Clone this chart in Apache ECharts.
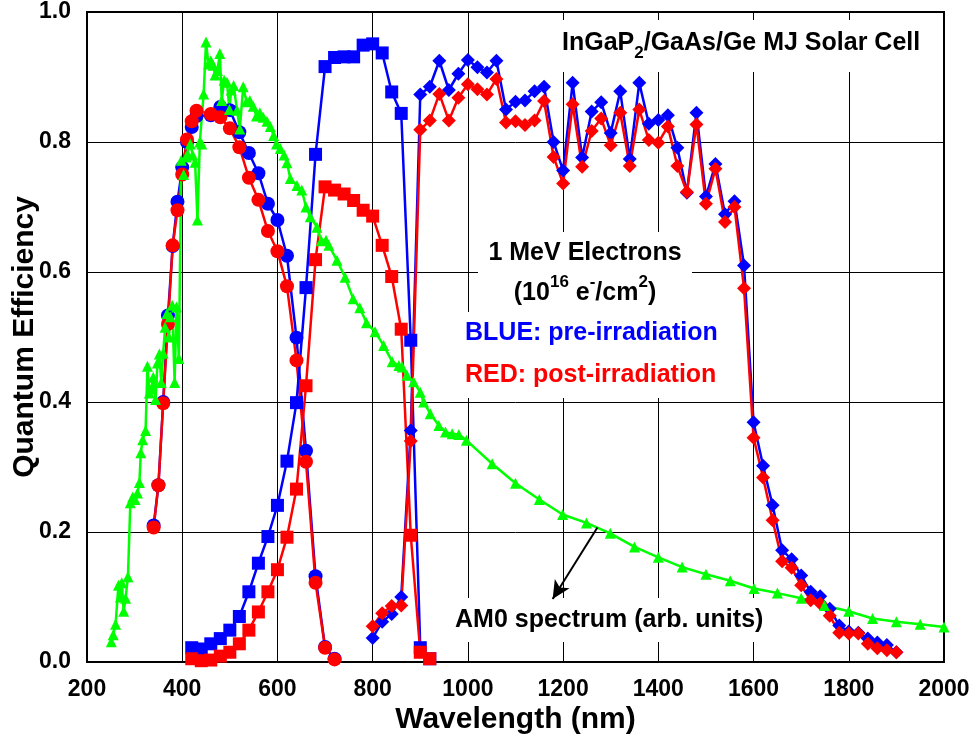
<!DOCTYPE html>
<html>
<head>
<meta charset="utf-8">
<script src="https://cdn.jsdelivr.net/npm/echarts@6/dist/echarts.min.js"></script>
<style>
  html, body { margin: 0; padding: 0; background: #fff; }
  #qe { width: 973px; height: 742px; }
</style>
</head>
<body>
<div id="qe"></div>
<script>
// InGaP top cell (circles)
var topPre = [[340,0.21],[350,0.272],[360,0.40],[370,0.533],[380,0.64],[390,0.708],[400,0.761],[410,0.80],[420,0.823],[430,0.84],[460,0.841],[480,0.854],[500,0.849],[520,0.815],[540,0.783],[560,0.752],[580,0.705],[600,0.680],[620,0.625],[640,0.499],[660,0.325],[680,0.132],[700,0.023],[720,0.005]];
var topPost = [[340,0.207],[350,0.272],[360,0.398],[370,0.52],[380,0.641],[390,0.695],[400,0.75],[410,0.804],[420,0.832],[430,0.848],[460,0.843],[480,0.838],[500,0.821],[520,0.792],[540,0.745],[560,0.711],[580,0.663],[600,0.632],[620,0.578],[640,0.464],[660,0.308],[680,0.122],[700,0.022],[720,0.004]];
// GaAs middle cell (squares)
var midPre = [[420,0.022],[440,0.02],[460,0.028],[480,0.036],[500,0.049],[520,0.07],[540,0.108],[560,0.152],[580,0.193],[600,0.241],[620,0.309],[640,0.399],[660,0.576],[680,0.781],[700,0.916],[720,0.930],[740,0.931],[760,0.931],[780,0.949],[800,0.951],[820,0.937],[840,0.877],[860,0.844],[880,0.495],[900,0.022],[920,0.005]];
var midPost = [[420,0.005],[440,0.002],[460,0.003],[480,0.009],[500,0.015],[520,0.028],[540,0.049],[560,0.077],[580,0.108],[600,0.142],[620,0.192],[640,0.266],[660,0.425],[680,0.619],[700,0.731],[720,0.726],[740,0.72],[760,0.71],[780,0.695],[800,0.686],[820,0.641],[840,0.593],[860,0.512],[880,0.195],[900,0.015],[920,0.005]];
// Ge bottom cell (diamonds)
var botPre = [[800,0.037],[820,0.062],[840,0.074],[860,0.10],[880,0.356],[900,0.873],[920,0.885],[940,0.925],[960,0.88],[980,0.905],[1000,0.926],[1020,0.915],[1040,0.907],[1060,0.925],[1080,0.85],[1100,0.862],[1120,0.864],[1140,0.878],[1160,0.885],[1180,0.80],[1200,0.756],[1220,0.891],[1240,0.776],[1260,0.847],[1280,0.861],[1300,0.814],[1320,0.878],[1340,0.774],[1360,0.891],[1380,0.828],[1400,0.834],[1420,0.841],[1440,0.791],[1460,0.722],[1480,0.845],[1500,0.716],[1520,0.766],[1540,0.689],[1560,0.709],[1580,0.61],[1600,0.369],[1620,0.302],[1640,0.241],[1660,0.172],[1680,0.158],[1700,0.133],[1720,0.108],[1740,0.101],[1760,0.082],[1780,0.056],[1800,0.047],[1820,0.045],[1840,0.036],[1860,0.03],[1880,0.026],[1900,0.015]];
var botPost = [[800,0.055],[820,0.075],[840,0.086],[860,0.087],[880,0.34],[900,0.819],[920,0.833],[940,0.874],[960,0.833],[980,0.868],[1000,0.889],[1020,0.881],[1040,0.873],[1060,0.897],[1080,0.830],[1100,0.832],[1120,0.826],[1140,0.833],[1160,0.863],[1180,0.777],[1200,0.736],[1220,0.858],[1240,0.762],[1260,0.817],[1280,0.836],[1300,0.795],[1320,0.845],[1340,0.763],[1360,0.850],[1380,0.803],[1400,0.799],[1420,0.824],[1440,0.763],[1460,0.723],[1480,0.827],[1500,0.705],[1520,0.759],[1540,0.677],[1560,0.700],[1580,0.575],[1600,0.345],[1620,0.284],[1640,0.218],[1660,0.155],[1680,0.145],[1700,0.118],[1720,0.095],[1740,0.09],[1760,0.071],[1780,0.045],[1800,0.044],[1820,0.044],[1840,0.028],[1860,0.021],[1880,0.018],[1900,0.015]];
// AM0 spectrum, arb. units
var am0 = [[251,0.031],[255,0.042],[260,0.058],[266,0.118],[270,0.10],[273,0.122],[277,0.078],[281,0.098],[286,0.131],[291,0.245],[296,0.254],[301,0.25],[306,0.26],[310,0.276],[313,0.322],[317,0.342],[323,0.356],[327,0.455],[331,0.414],[335,0.42],[339,0.438],[344,0.404],[348,0.46],[352,0.474],[356,0.43],[360,0.475],[364,0.515],[368,0.536],[372,0.5],[375,0.531],[379,0.549],[384,0.43],[388,0.546],[393,0.467],[398,0.772],[403,0.75],[408,0.777],[412,0.78],[417,0.797],[422,0.78],[427,0.769],[432,0.68],[437,0.8],[441,0.797],[445,0.874],[450,0.954],[455,0.92],[460,0.925],[465,0.918],[469,0.903],[474,0.91],[479,0.936],[483,0.864],[488,0.895],[494,0.892],[499,0.85],[503,0.88],[508,0.887],[515,0.849],[521,0.82],[528,0.885],[535,0.862],[542,0.864],[549,0.855],[556,0.84],[563,0.845],[570,0.838],[578,0.832],[585,0.824],[592,0.81],[598,0.797],[606,0.79],[614,0.78],[620,0.768],[627,0.744],[641,0.733],[651,0.726],[660,0.70],[669,0.685],[683,0.669],[692,0.648],[702,0.649],[708,0.641],[725,0.618],[742,0.592],[759,0.559],[773,0.545],[787,0.522],[805,0.508],[823,0.487],[841,0.462],[855,0.456],[862,0.454],[872,0.441],[886,0.431],[900,0.415],[907,0.40],[921,0.382],[939,0.364],[953,0.354],[967,0.351],[981,0.35],[997,0.341],[1051,0.305],[1100,0.275],[1150,0.25],[1199,0.227],[1249,0.214],[1299,0.198],[1350,0.177],[1400,0.161],[1450,0.146],[1500,0.135],[1551,0.125],[1601,0.113],[1650,0.106],[1700,0.098],[1749,0.087],[1800,0.078],[1850,0.067],[1900,0.062],[1950,0.058],[2000,0.054]];
// arrow from the AM0 curve to its label
var arrowFrom = [1272, 0.207];
var arrowTo = [1178, 0.097];

var FONT = "'Liberation Sans', Arial, sans-serif";
var BLUE = "#0000ff", RED = "#ff0000", GREEN = "#00ff00";

function line(name, data, color, symbol, size) {
  return {
    name: name,
    type: "line",
    data: data,
    symbol: symbol,
    symbolSize: size,
    showAllSymbol: true,
    animation: false,
    lineStyle: { color: color, width: 2.5 },
    itemStyle: { color: color }
  };
}

var chart = echarts.init(document.getElementById("qe"));
var series = [
  line("InGaP pre", topPre, BLUE, "circle", 14),
  line("InGaP post", topPost, RED, "circle", 14),
  line("GaAs pre", midPre, BLUE, "rect", 13),
  line("GaAs post", midPost, RED, "rect", 13),
  line("Ge pre", botPre, BLUE, "diamond", 14),
  line("Ge post", botPost, RED, "diamond", 14),
  line("AM0", am0, GREEN, "triangle", 11)
];
series[6].markLine = {
  silent: true,
  animation: false,
  symbol: ["none", "arrow"],
  symbolSize: [13, 18],
  label: { show: false },
  lineStyle: { color: "#000", width: 2, type: "solid" },
  data: [[{ coord: arrowFrom }, { coord: arrowTo }]]
};

chart.setOption({
  animation: false,
  grid: {
    left: 87, right: 29, top: 12, bottom: 80,
    outerBoundsMode: "none",
    containLabel: false,
    show: true, borderColor: "#000", borderWidth: 2
  },
  xAxis: {
    type: "value",
    min: 200, max: 2000, interval: 200,
    name: "Wavelength (nm)",
    nameLocation: "middle",
    nameGap: 43,
    nameMoveOverlap: false,
    nameTextStyle: { fontFamily: FONT, fontWeight: "bold", fontSize: 30, color: "#000" },
    axisLine: { show: true, lineStyle: { color: "#000", width: 2 } },
    axisTick: { show: false },
    axisLabel: {
      fontFamily: FONT, fontWeight: "bold", fontSize: 23, color: "#000", margin: 16,
      formatter: function (v) { return String(v); }
    },
    splitLine: { show: true, lineStyle: { color: "#000", width: 1 } }
  },
  yAxis: {
    type: "value",
    min: 0, max: 1, interval: 0.2,
    name: "Quantum Efficiency",
    nameLocation: "middle",
    nameGap: 47,
    nameMoveOverlap: false,
    nameTextStyle: { fontFamily: FONT, fontWeight: "bold", fontSize: 30, color: "#000" },
    axisLine: { show: true, lineStyle: { color: "#000", width: 2 } },
    axisTick: { show: false },
    axisLabel: {
      fontFamily: FONT, fontWeight: "bold", fontSize: 23, color: "#000", margin: 16,
      formatter: function (v) { return v.toFixed(1); }
    },
    splitLine: { show: true, lineStyle: { color: "#000", width: 1 } }
  },
  graphic: [
    { type: "rect", z: 1, shape: { x: 555, y: 20, width: 375, height: 52 }, style: { fill: "#fff" } },
    { type: "rect", z: 1, shape: { x: 478, y: 232, width: 214, height: 80 }, style: { fill: "#fff" } },
    { type: "rect", z: 1, shape: { x: 462, y: 312, width: 262, height: 86 }, style: { fill: "#fff" } },
    { type: "rect", z: 1, shape: { x: 448, y: 598, width: 325, height: 44 }, style: { fill: "#fff" } },
    {
      type: "text", z: 3, x: 562, y: 43,
      style: {
        text: "{n|InGaP}{sub|2}{n|/GaAs/Ge MJ Solar Cell}",
        verticalAlign: "middle", align: "left", fill: "#000",
        rich: {
          n: { fontFamily: FONT, fontWeight: "bold", fontSize: 25, lineHeight: 38, fill: "#000" },
          sub: { fontFamily: FONT, fontWeight: "bold", fontSize: 17, lineHeight: 17, verticalAlign: "bottom", fill: "#000" }
        }
      }
    },
    {
      type: "text", z: 3, x: 585, y: 253,
      style: { text: "1 MeV Electrons", font: "bold 25px " + FONT, fill: "#000", align: "center", verticalAlign: "middle" }
    },
    {
      type: "text", z: 3, x: 585, y: 293,
      style: {
        text: "{n|(10}{sup|16}{n| e}{sup|-}{n|/cm}{sup|2}{n|)}",
        verticalAlign: "middle", align: "center", fill: "#000",
        rich: {
          n: { fontFamily: FONT, fontWeight: "bold", fontSize: 25, lineHeight: 38, fill: "#000" },
          sup: { fontFamily: FONT, fontWeight: "bold", fontSize: 17, lineHeight: 17, verticalAlign: "top", fill: "#000" }
        }
      }
    },
    {
      type: "text", z: 3, x: 465, y: 333,
      style: { text: "BLUE: pre-irradiation", font: "bold 25px " + FONT, fill: BLUE, align: "left", verticalAlign: "middle" }
    },
    {
      type: "text", z: 3, x: 465, y: 375,
      style: { text: "RED: post-irradiation", font: "bold 25px " + FONT, fill: RED, align: "left", verticalAlign: "middle" }
    },
    {
      type: "text", z: 3, x: 455, y: 620,
      style: { text: "AM0 spectrum (arb. units)", font: "bold 25px " + FONT, fill: "#000", align: "left", verticalAlign: "middle" }
    }
  ],
  series: series
});
</script>
</body>
</html>
